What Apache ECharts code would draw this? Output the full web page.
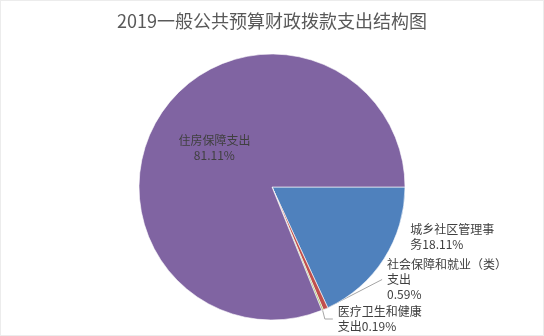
<!DOCTYPE html>
<html>
<head>
<meta charset="utf-8">
<script src="https://cdn.jsdelivr.net/npm/echarts@6/dist/echarts.min.js"></script>
<style>
  html, body { margin: 0; padding: 0; background: #fff; }
  #chart { width: 544px; height: 336px; box-sizing: border-box; border: 1px solid #ececec; }
</style>
</head>
<body>
<div id="chart"></div>
<script>
// 2019 general public budget appropriation — expenditure structure
const chartTitle = '2019一般公共预算财政拨款支出结构图';
const categories = ['城乡社区管理事务', '社会保障和就业（类）支出', '医疗卫生和健康支出', '住房保障支出'];
const shares = [18.11, 0.59, 0.19, 81.11];           // percent of total
const labelTexts = ['城乡社区管理事\n务18.11%', '社会保障和就业（类）\n支出\n0.59%', '医疗卫生和健康\n支出0.19%', '住房保障支出\n81.11%'];
const colors = ['#4F81BD', '#C0504D', '#9BBB59', '#8064A2'];

const font = '"Noto Sans CJK SC", "Microsoft YaHei", sans-serif';
const chart = echarts.init(document.getElementById('chart'), null, { renderer: 'canvas' });

const seriesData = categories.map((name, i) => {
  const item = {
    name: name,
    value: shares[i],
    itemStyle: { color: colors[i] },
    label: { formatter: labelTexts[i] }
  };
  if (i === 3) {
    item.label.position = 'inside';
  }
  if (i === 0) {
    // the large blue wedge is clear enough without a leader line
    item.labelLine = { show: false };
  }
  return item;
});

chart.setOption({
  animation: false,
  backgroundColor: '#fff',
  title: {
    text: chartTitle,
    left: 'center',
    top: 6,
    textStyle: { fontFamily: font, fontSize: 18, fontWeight: 'normal', color: '#595959' }
  },
  series: [{
    type: 'pie',
    center: [271, 186],
    radius: 133,
    startAngle: 0,
    clockwise: true,
    avoidLabelOverlap: true,
    itemStyle: { borderColor: '#ffffff', borderWidth: 0.6 },
    label: {
      show: true,
      position: 'outside',
      fontFamily: font,
      fontSize: 12,
      lineHeight: 15,
      color: '#404040',
      align: 'center'
    },
    labelLine: { show: true, length: 6, length2: 8, lineStyle: { color: '#a6a6a6' } },
    data: seriesData
  }]
});
</script>
</body>
</html>
